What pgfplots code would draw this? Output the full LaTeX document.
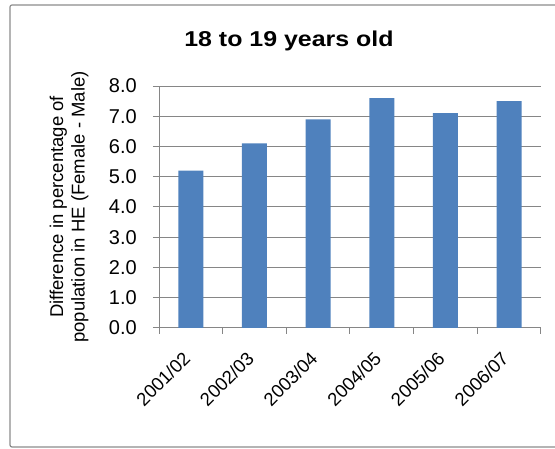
\documentclass[border=0pt]{standalone}
\usepackage{pgfplots}
\pgfplotsset{compat=1.18}
\usepackage{fontspec}
\setmainfont{Liberation Sans}
\usepackage{graphicx}
\definecolor{barblue}{HTML}{4F81BD}
\definecolor{axgray}{HTML}{868686}
\definecolor{framegray}{HTML}{8C8C8C}
\begin{document}
\begin{tikzpicture}[x=1pt,y=1pt]
\useasboundingbox (0,0) rectangle (555,449);
\draw[framegray, line width=1.2pt, rounded corners=2pt] (10,2) rectangle (565,444);
\node[font=\bfseries\fontsize{21.5}{24}\selectfont] at (289,408) {\scalebox{1.16}[1]{18 to 19 years old}};
\node[rotate=90, align=center, font=\fontsize{18.5}{21.5}\selectfont] at (69,242) {Difference in percentage of\\population in HE (Female - Male)};
\begin{axis}[
  at={(159pt,121pt)}, anchor=south west,
  scale only axis, width=382pt, height=242pt,
  xmin=-0.5, xmax=5.5, ymin=0, ymax=8,
  axis lines=left,
  axis line style={-, draw=axgray, line width=1pt},
  /pgf/number format/assume math mode=true,
  ytick={0,1,2,3,4,5,6,7,8},
  yticklabel style={/pgf/number format/fixed, /pgf/number format/fixed zerofill, /pgf/number format/precision=1,
    font=\fontsize{20}{22}\selectfont, inner sep=0pt, xshift=-16pt},
  xtick={-0.5,0.5,1.5,2.5,3.5,4.5,5.5},
  xticklabels={},
  extra x ticks={0,1,2,3,4,5},
  extra x tick labels={2001/02,2002/03,2003/04,2004/05,2005/06,2006/07},
  extra x tick style={major tick length=0pt, grid=none,
    xticklabel style={font=\fontsize{18.5}{21}\selectfont, inner sep=0pt, xshift=-4pt, yshift=-27pt, rotate=45, anchor=east}},
  ymajorgrids,
  major grid style={draw=axgray, line width=1pt},
  tick style={draw=axgray, line width=1pt},
  tick align=outside,
  major tick length=6pt,
]
\addplot[ybar, bar width=25pt, fill=barblue, draw=none] coordinates {(0,5.2) (1,6.1) (2,6.9) (3,7.6) (4,7.1) (5,7.5)};
\end{axis}
\end{tikzpicture}
\end{document}
